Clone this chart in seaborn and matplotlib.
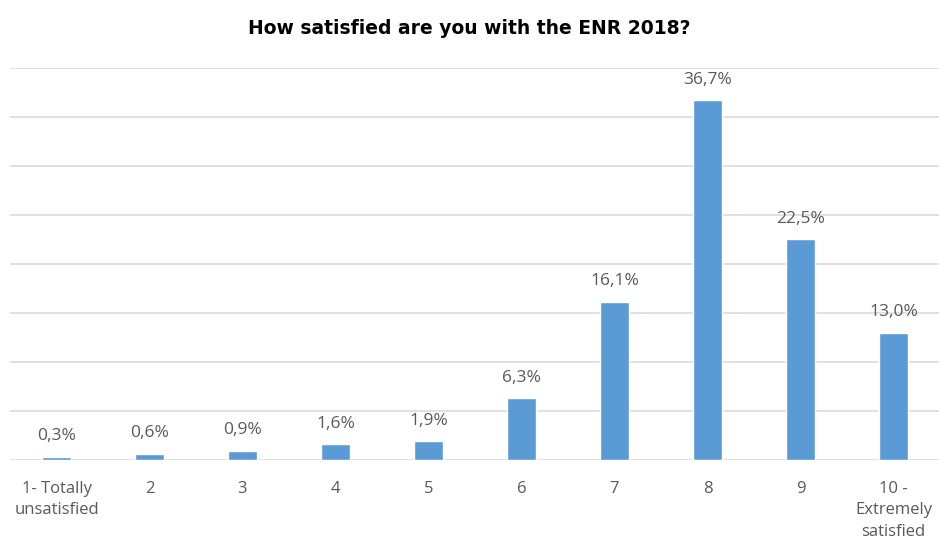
import numpy as np
import pandas as pd
import seaborn as sns
import matplotlib.pyplot as plt

categories = ["1- Totally\nunsatisfied", "2", "3", "4", "5", "6", "7", "8", "9",
              "10 -\nExtremely\nsatisfied"]
values = [0.3, 0.6, 0.9, 1.6, 1.9, 6.3, 16.1, 36.7, 22.5, 13.0]

df = pd.DataFrame({"score": categories, "pct": values})

sns.set_theme(style="white")
plt.rcParams["font.family"] = ["Open Sans", "DejaVu Sans"]

fig = plt.figure(figsize=(9.39, 5.45), dpi=100)
ax = fig.add_axes([10 / 939, 85 / 545, 930 / 939, 392 / 545])

sns.barplot(data=df, x="score", y="pct", color="#5B9BD5", saturation=1,
            width=0.32, ax=ax, zorder=3)

ax.set_ylim(0, 40)
ax.set_xlim(-0.5, 9.5)
ax.set_yticks(np.arange(0, 41, 5))
ax.yaxis.grid(True, color="#D9D9D9", linewidth=1.1, zorder=0)
ax.set_axisbelow(True)
ax.tick_params(axis="y", left=False, labelleft=False)
ax.tick_params(axis="x", bottom=False, labelsize=12, labelcolor="#595959", pad=9)
for lbl in ax.get_xticklabels():
    lbl.set_verticalalignment("top")
    lbl.set_linespacing(1.45)
for s in ax.spines.values():
    s.set_visible(False)
ax.set_xlabel("")
ax.set_ylabel("")

for i, v in enumerate(values):
    ax.text(i, v + 1.3, f"{v:.1f}%".replace(".", ","), ha="center", va="bottom",
            fontsize=12.5, color="#595959")

fig.suptitle("How satisfied are you with the ENR 2018?", y=0.965,
             fontsize=13.5, fontweight="bold", color="black",
             family=["DejaVu Sans"])

fig.savefig("out.png", dpi=100)
